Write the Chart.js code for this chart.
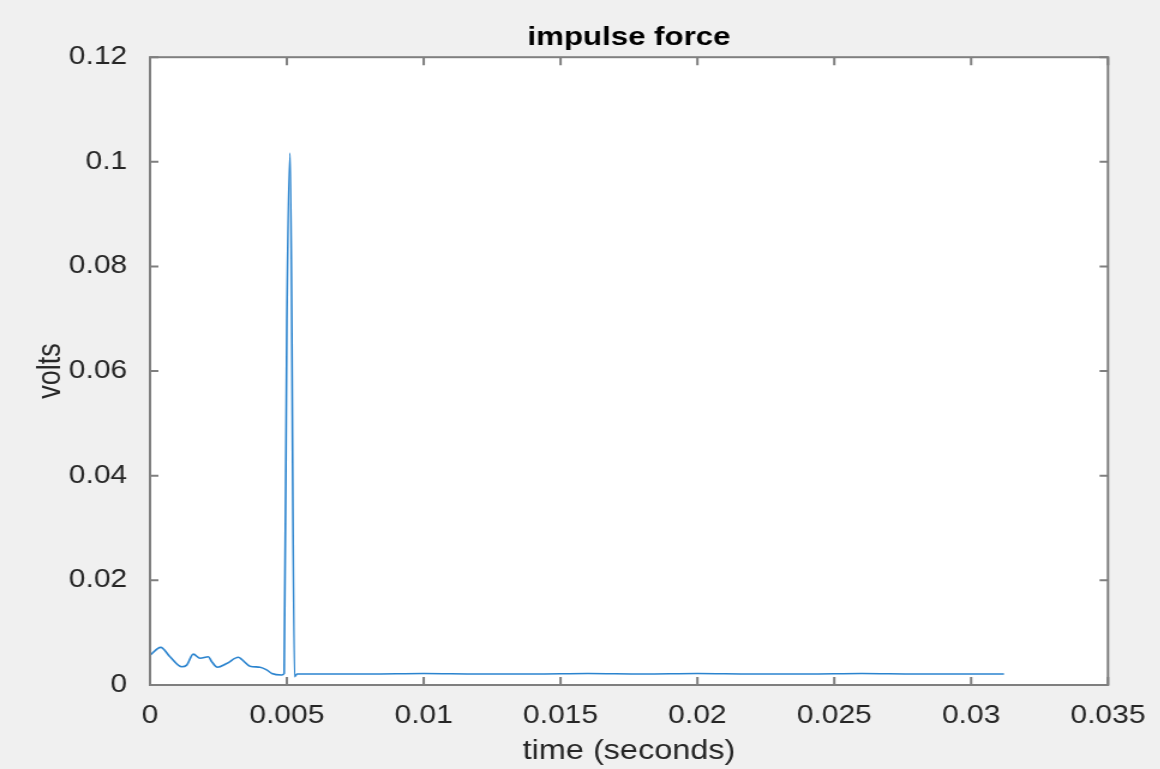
<!DOCTYPE html>
<html>
<head>
<meta charset="utf-8">
<title>impulse force</title>
<script src="https://cdn.jsdelivr.net/npm/chart.js@4.4.1/dist/chart.umd.min.js"></script>
<style>
    html, body { margin: 0; padding: 0; background: #f0f0f0; overflow: hidden; }
    /* figure window is wider than tall: the canvas is stretched horizontally */
    #figura { width: 967px; height: 769px; transform: scaleX(1.2); transform-origin: 0 0; }
</style>
</head>
<body>
<div id="figura"><canvas id="myChart" width="967" height="769"></canvas></div>
<script>
// tiempo en segundos, voltaje del sensor de fuerza
var tiempo = [0, 0.00039, 0.00073, 0.00116, 0.00134, 0.00158, 0.00183, 0.00213, 0.00225, 0.00246,
    0.0028, 0.00323, 0.00335, 0.00365, 0.00402, 0.00426, 0.00445, 0.00481, 0.0049, 0.005,
    0.00512, 0.00528, 0.00537, 0.006, 0.008, 0.010, 0.012, 0.014, 0.016, 0.018,
    0.020, 0.022, 0.024, 0.026, 0.028, 0.030, 0.0312];
var voltios = [0.0057, 0.0072, 0.0054, 0.0035, 0.0038, 0.0059, 0.0051, 0.0054, 0.0045, 0.0034,
    0.0041, 0.0053, 0.0049, 0.0036, 0.0034, 0.0029, 0.0022, 0.0019, 0.0022, 0.07,
    0.1017, 0.0016, 0.0021, 0.0021, 0.0021, 0.0022, 0.0021, 0.0021, 0.0022, 0.0021,
    0.0022, 0.0021, 0.0021, 0.0022, 0.0021, 0.0021, 0.0021];

var xTicks = [0, 0.005, 0.01, 0.015, 0.02, 0.025, 0.03, 0.035];
var xTickLabels = ['0', '0.005', '0.01', '0.015', '0.02', '0.025', '0.03', '0.035'];
var yTicks = [0, 0.02, 0.04, 0.06, 0.08, 0.1, 0.12];
var yTickLabels = ['0', '0.02', '0.04', '0.06', '0.08', '0.1', '0.12'];

var fuente = "'Liberation Sans', Arial, Helvetica, sans-serif";
var gris = '#7f7f7f';

// fondo gris de la figura, area blanca y caja con ticks hacia adentro
var marco = {
    id: 'marco',
    beforeDraw: function (chart) {
        var ctx = chart.ctx, a = chart.chartArea;
        ctx.save();
        ctx.fillStyle = '#f0f0f0';
        ctx.fillRect(0, 0, chart.width, chart.height);
        ctx.fillStyle = '#ffffff';
        ctx.fillRect(a.left, a.top, a.right - a.left, a.bottom - a.top);
        ctx.restore();
    },
    afterDatasetsDraw: function (chart) {
        var ctx = chart.ctx, a = chart.chartArea;
        var sx = chart.scales.x, sy = chart.scales.y;
        ctx.save();
        ctx.strokeStyle = gris;
        ctx.lineWidth = 2;
        ctx.beginPath();
        xTicks.forEach(function (v) {
            var px = sx.getPixelForValue(v);
            ctx.moveTo(px, a.bottom); ctx.lineTo(px, a.bottom - 8);
            ctx.moveTo(px, a.top); ctx.lineTo(px, a.top + 8);
        });
        yTicks.forEach(function (v) {
            var py = sy.getPixelForValue(v);
            ctx.moveTo(a.left, py); ctx.lineTo(a.left + 7, py);
            ctx.moveTo(a.right, py); ctx.lineTo(a.right - 7, py);
        });
        ctx.stroke();
        ctx.strokeRect(a.left, a.top, a.right - a.left, a.bottom - a.top);
        ctx.restore();
    }
};

var ctx = document.getElementById('myChart');
var myChart = new Chart(ctx, {
    type: 'line',
    data: {
        datasets: [{
            label: 'impulse force',
            data: tiempo.map(function (t, i) { return { x: t, y: voltios[i] }; }),
            borderColor: '#2b84cf',
            backgroundColor: '#2b84cf',
            borderWidth: 1.6,
            pointRadius: 0,
            cubicInterpolationMode: 'monotone',
            fill: false
        }]
    },
    plugins: [marco],
    options: {
        responsive: false,
        animation: false,
        layout: { padding: { left: 0, right: 43.7, top: 0, bottom: 0 } },
        plugins: {
            legend: { display: false },
            tooltip: { enabled: false },
            title: {
                display: true,
                text: 'impulse force',
                fullSize: false,
                color: '#000000',
                font: { family: fuente, size: 26, weight: 'bold' },
                padding: { top: 22, bottom: 4 }
            }
        },
        scales: {
            x: {
                type: 'linear',
                min: 0,
                max: 0.035,
                grid: { display: false },
                border: { display: false },
                afterBuildTicks: function (s) { s.ticks = xTicks.map(function (v) { return { value: v }; }); },
                afterFit: function (s) { s.height = 84; },
                ticks: {
                    color: '#262626',
                    font: { family: fuente, size: 25 },
                    padding: 8,
                    maxRotation: 0,
                    autoSkip: false,
                    callback: function (v, i) { return xTickLabels[i]; }
                },
                title: {
                    display: true,
                    text: 'time (seconds)',
                    color: '#262626',
                    font: { family: fuente, size: 27 },
                    padding: { top: 0, bottom: 1 }
                }
            },
            y: {
                type: 'linear',
                min: 0,
                max: 0.12,
                grid: { display: false },
                border: { display: false },
                afterBuildTicks: function (s) { s.ticks = yTicks.map(function (v) { return { value: v }; }); },
                afterFit: function (s) { s.width = 125; },
                ticks: {
                    color: '#262626',
                    font: { family: fuente, size: 25 },
                    padding: 11,
                    autoSkip: false,
                    callback: function (v, i) { return yTickLabels[i]; }
                },
                title: {
                    display: true,
                    text: 'volts',
                    color: '#262626',
                    font: { family: fuente, size: 27 },
                    padding: { top: 26, bottom: 0 }
                }
            }
        }
    }
});
</script>
</body>
</html>
